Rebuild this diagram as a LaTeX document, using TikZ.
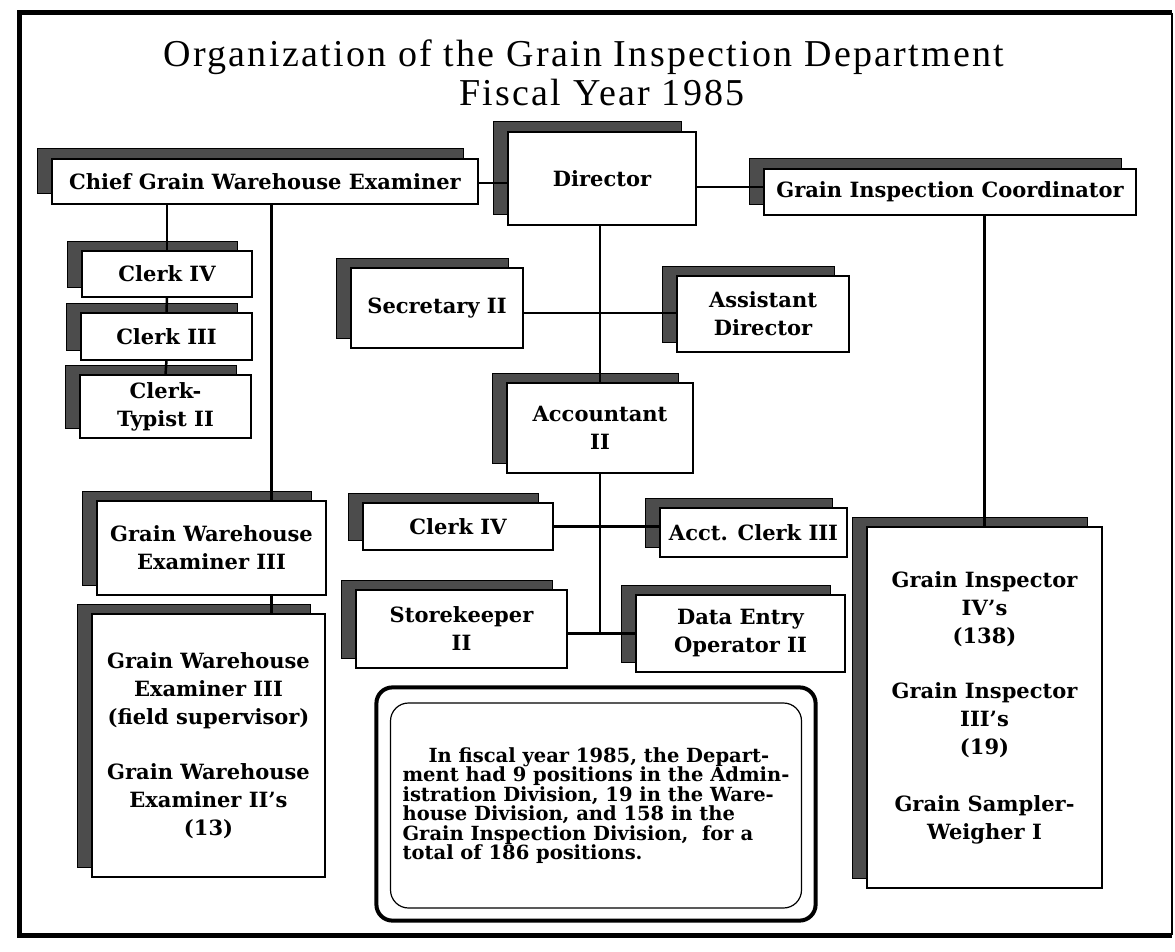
\documentclass[tikz,border=0pt]{standalone}
\usepackage{fontspec}
\setmainfont{DejaVu Serif}
\newfontfamily\titlefont[LetterSpace=6]{Liberation Serif}
\usetikzlibrary{shadows}

\tikzset{
  postbox/.style={draw, line width=1.5pt, fill=white, inner sep=0pt, outer sep=0pt,
    align=center, font=\bfseries\fontsize{21}{28}\selectfont,
    drop shadow={shadow xshift=-15pt, shadow yshift=10pt, fill=black!70, draw=black,
      line width=1pt, opacity=1}},
  link/.style={line width=2.5pt},
  heading/.style={anchor=base, inner sep=0pt, font=\titlefont\fontsize{38}{44}\selectfont},
}

\begin{document}
\begin{tikzpicture}[x=1pt,y=-1pt,line join=miter]
\useasboundingbox (0,0) rectangle (1175,952);
% frame
\draw[line width=5pt] (1172,13) -- (19,13) -- (19,935) -- (1172,935);
\draw[line width=1.5pt] (1172,13) -- (1172,935);
% title
\node[heading] (title1) at (584,67) {Organization of the Grain Inspection Department};
\node[heading] (title2) at (602,106) {Fiscal Year 1985};
% Administration
\node[postbox, minimum width=188pt, minimum height=93pt] (dir) at (602,178.5) {Director};
\node[postbox, minimum width=172pt, minimum height=80pt] (sec) at (437,308) {Secretary II};
\node[postbox, minimum width=172pt, minimum height=76pt] (asst) at (763,314) {Assistant\\Director};
\node[postbox, minimum width=186pt, minimum height=90pt] (acct) at (600,428) {Accountant\\II};
\node[postbox, minimum width=190pt, minimum height=47pt] (clerkc) at (458,526.5) {Clerk IV};
\node[postbox, minimum width=187pt, minimum height=49pt] (actclerk) at (753.5,532.5) {Acct. Clerk III};
\node[postbox, minimum width=211pt, minimum height=78pt] (store) at (461.5,629) {Storekeeper\\II};
\node[postbox, minimum width=209pt, minimum height=77pt] (deo) at (740.5,633.5) {Data Entry\\Operator II};
% Warehouse
\node[postbox, minimum width=426pt, minimum height=45pt] (chief) at (265,181.5) {Chief Grain Warehouse Examiner};
\node[postbox, minimum width=170pt, minimum height=46pt] (clerka) at (167,274) {Clerk IV};
\node[postbox, minimum width=171pt, minimum height=47pt] (clerkb) at (166.5,336.5) {Clerk III};
\node[postbox, minimum width=171pt, minimum height=63pt] (typist) at (165.5,406.5) {Clerk-\\Typist II};
\node[postbox, minimum width=229pt, minimum height=94pt] (gwe) at (211.5,548) {Grain Warehouse\\Examiner III};
\node[postbox, minimum width=233pt, minimum height=263pt] (gwefield) at (208.5,745.5)
  {Grain Warehouse\\Examiner III\\(field supervisor)\\[27pt]Grain Warehouse\\Examiner II's\\(13)};
% Grain Inspection
\node[postbox, minimum width=372pt, minimum height=46pt] (gic) at (950,192) {Grain Inspection Coordinator};
\node[postbox, minimum width=235pt, minimum height=361pt] (insp) at (984.5,707.5)
  {Grain Inspector\\IV's\\(138)\\[27pt]Grain Inspector\\III's\\(19)\\[29pt]Grain Sampler-\\Weigher I};
% note
\node[draw, line width=1.2pt, rounded corners=18pt, inner sep=0pt, minimum width=411pt,
  minimum height=205pt, align=left, font=\bfseries\fontsize{19.5}{19.5}\selectfont] (note) at (596,805.5)
  {\hspace*{26pt}In fiscal year 1985, the Depart-\\
   ment had 9 positions in the Admin-\\
   istration Division, 19 in the Ware-\\
   house Division, and 158 in the\\
   Grain Inspection Division,~ for a\\
   total of 186 positions.};
\draw[line width=4pt, rounded corners=16pt] ([shift={(-13.5pt,15pt)}]note.north west)
  rectangle ([shift={(13.5pt,-12pt)}]note.south east);
% links
\draw[link] ([yshift=-1.5pt]chief.east) -- ([yshift=-1.5pt]chief.east -| dir.west);
\draw[link] ([yshift=5pt]gic.west) -- ([yshift=5pt]gic.west -| dir.east);
\draw[link] (acct.north) -- (acct.north |- dir.south);
\draw[link] ([yshift=-5pt]sec.east) -- ([yshift=-5pt]sec.east -| asst.west);
\draw[link] (clerka.north) -- (clerka.north |- chief.south);
\draw[link] (clerka.south) -- (clerkb.north);
\draw[link] (clerkb.south) -- (typist.north);
\draw[link] ([xshift=60pt]gwe.north) -- ([xshift=60pt]gwe.north |- chief.south);
\draw[link] ([xshift=60pt]gwe.south) -- ([xshift=60pt]gwe.south |- gwefield.north);
\coordinate (j2) at (acct.south |- deo.west);
\draw[link] (acct.south) -- (j2);
\draw[link] (clerkc.east) -- (clerkc.east -| actclerk.west);
\draw[link] (store.east |- j2) -- (deo.west |- j2);
\draw[link] (insp.north) -- (insp.north |- gic.south);
\end{tikzpicture}
\end{document}
